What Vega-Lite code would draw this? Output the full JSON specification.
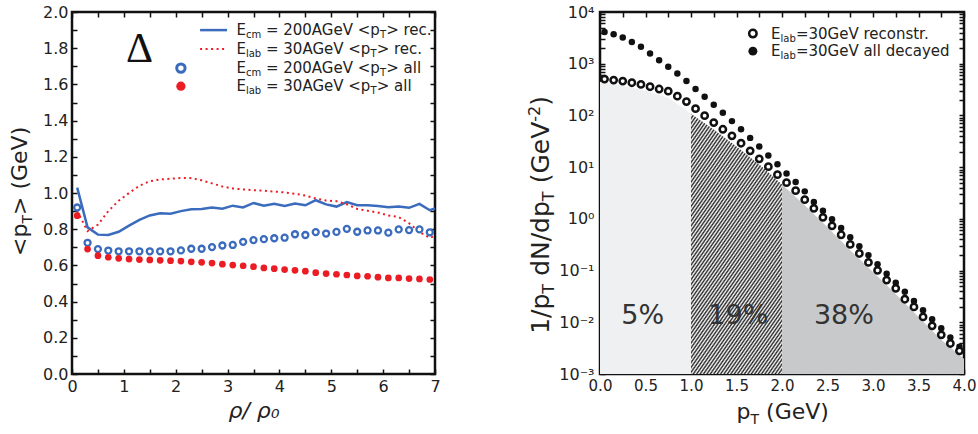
{
  "$schema": "https://vega.github.io/schema/vega-lite/v6.json",
  "background": "white",
  "padding": {"left": 8, "top": 2, "right": 5, "bottom": 0},
  "spacing": 83,
  "datasets": {
    "rec200": [
      {"rho": 0.1, "v": 1.03}, {"rho": 0.3, "v": 0.81}, {"rho": 0.5, "v": 0.77}, {"rho": 0.7, "v": 0.768}, {"rho": 0.9, "v": 0.786},
      {"rho": 1.1, "v": 0.82}, {"rho": 1.3, "v": 0.852}, {"rho": 1.5, "v": 0.876}, {"rho": 1.7, "v": 0.888}, {"rho": 1.9, "v": 0.886},
      {"rho": 2.1, "v": 0.9}, {"rho": 2.3, "v": 0.91}, {"rho": 2.5, "v": 0.912}, {"rho": 2.7, "v": 0.92}, {"rho": 2.9, "v": 0.913},
      {"rho": 3.1, "v": 0.93}, {"rho": 3.3, "v": 0.92}, {"rho": 3.5, "v": 0.945}, {"rho": 3.7, "v": 0.93}, {"rho": 3.9, "v": 0.94},
      {"rho": 4.1, "v": 0.928}, {"rho": 4.3, "v": 0.942}, {"rho": 4.5, "v": 0.932}, {"rho": 4.7, "v": 0.96}, {"rho": 4.9, "v": 0.937},
      {"rho": 5.1, "v": 0.925}, {"rho": 5.3, "v": 0.95}, {"rho": 5.5, "v": 0.932}, {"rho": 5.7, "v": 0.932}, {"rho": 5.9, "v": 0.928},
      {"rho": 6.1, "v": 0.921}, {"rho": 6.3, "v": 0.926}, {"rho": 6.5, "v": 0.918}, {"rho": 6.7, "v": 0.94}, {"rho": 6.9, "v": 0.905},
      {"rho": 7.0, "v": 0.915}
    ],
    "rec30": [
      {"rho": 0.1, "v": 0.9}, {"rho": 0.3, "v": 0.79}, {"rho": 0.5, "v": 0.825}, {"rho": 0.7, "v": 0.9}, {"rho": 0.9, "v": 0.957},
      {"rho": 1.1, "v": 1.0}, {"rho": 1.3, "v": 1.04}, {"rho": 1.5, "v": 1.065}, {"rho": 1.7, "v": 1.075}, {"rho": 1.9, "v": 1.079},
      {"rho": 2.1, "v": 1.083}, {"rho": 2.3, "v": 1.082}, {"rho": 2.5, "v": 1.07}, {"rho": 2.7, "v": 1.053}, {"rho": 2.9, "v": 1.036},
      {"rho": 3.1, "v": 1.025}, {"rho": 3.3, "v": 1.02}, {"rho": 3.5, "v": 1.015}, {"rho": 3.7, "v": 1.013}, {"rho": 3.9, "v": 1.008},
      {"rho": 4.1, "v": 1.003}, {"rho": 4.3, "v": 0.996}, {"rho": 4.5, "v": 0.986}, {"rho": 4.7, "v": 0.97}, {"rho": 4.9, "v": 0.958},
      {"rho": 5.1, "v": 0.955}, {"rho": 5.3, "v": 0.938}, {"rho": 5.5, "v": 0.912}, {"rho": 5.7, "v": 0.902}, {"rho": 5.9, "v": 0.892},
      {"rho": 6.1, "v": 0.876}, {"rho": 6.3, "v": 0.867}, {"rho": 6.5, "v": 0.833}, {"rho": 6.7, "v": 0.785}, {"rho": 6.9, "v": 0.752},
      {"rho": 7.0, "v": 0.764}
    ],
    "all200": [
      {"rho": 0.1, "v": 0.92}, {"rho": 0.3, "v": 0.725}, {"rho": 0.5, "v": 0.69}, {"rho": 0.7, "v": 0.682}, {"rho": 0.9, "v": 0.678},
      {"rho": 1.1, "v": 0.678}, {"rho": 1.3, "v": 0.678}, {"rho": 1.5, "v": 0.678}, {"rho": 1.7, "v": 0.678}, {"rho": 1.9, "v": 0.678},
      {"rho": 2.1, "v": 0.683}, {"rho": 2.3, "v": 0.692}, {"rho": 2.5, "v": 0.692}, {"rho": 2.7, "v": 0.701}, {"rho": 2.9, "v": 0.71},
      {"rho": 3.1, "v": 0.713}, {"rho": 3.3, "v": 0.73}, {"rho": 3.5, "v": 0.74}, {"rho": 3.7, "v": 0.745}, {"rho": 3.9, "v": 0.75},
      {"rho": 4.1, "v": 0.753}, {"rho": 4.3, "v": 0.772}, {"rho": 4.5, "v": 0.768}, {"rho": 4.7, "v": 0.784}, {"rho": 4.9, "v": 0.776},
      {"rho": 5.1, "v": 0.785}, {"rho": 5.3, "v": 0.802}, {"rho": 5.5, "v": 0.786}, {"rho": 5.7, "v": 0.793}, {"rho": 5.9, "v": 0.793},
      {"rho": 6.1, "v": 0.781}, {"rho": 6.3, "v": 0.799}, {"rho": 6.5, "v": 0.795}, {"rho": 6.7, "v": 0.799}, {"rho": 6.9, "v": 0.783}
    ],
    "all30": [
      {"rho": 0.1, "v": 0.875}, {"rho": 0.3, "v": 0.69}, {"rho": 0.5, "v": 0.654}, {"rho": 0.7, "v": 0.645}, {"rho": 0.9, "v": 0.639},
      {"rho": 1.1, "v": 0.635}, {"rho": 1.3, "v": 0.632}, {"rho": 1.5, "v": 0.63}, {"rho": 1.7, "v": 0.628}, {"rho": 1.9, "v": 0.626},
      {"rho": 2.1, "v": 0.624}, {"rho": 2.3, "v": 0.62}, {"rho": 2.5, "v": 0.617}, {"rho": 2.7, "v": 0.613}, {"rho": 2.9, "v": 0.607},
      {"rho": 3.1, "v": 0.602}, {"rho": 3.3, "v": 0.598}, {"rho": 3.5, "v": 0.593}, {"rho": 3.7, "v": 0.586}, {"rho": 3.9, "v": 0.582},
      {"rho": 4.1, "v": 0.577}, {"rho": 4.3, "v": 0.573}, {"rho": 4.5, "v": 0.568}, {"rho": 4.7, "v": 0.56}, {"rho": 4.9, "v": 0.555},
      {"rho": 5.1, "v": 0.551}, {"rho": 5.3, "v": 0.547}, {"rho": 5.5, "v": 0.542}, {"rho": 5.7, "v": 0.54}, {"rho": 5.9, "v": 0.535},
      {"rho": 6.1, "v": 0.531}, {"rho": 6.3, "v": 0.531}, {"rho": 6.5, "v": 0.527}, {"rho": 6.7, "v": 0.525}, {"rho": 6.9, "v": 0.522}
    ],
    "reconstr": [
      {"pt": 0.05, "v": 505}, {"pt": 0.15, "v": 483}, {"pt": 0.25, "v": 462}, {"pt": 0.35, "v": 429}, {"pt": 0.45, "v": 397},
      {"pt": 0.55, "v": 359}, {"pt": 0.65, "v": 324}, {"pt": 0.75, "v": 294}, {"pt": 0.85, "v": 236}, {"pt": 0.95, "v": 185},
      {"pt": 1.05, "v": 135}, {"pt": 1.15, "v": 99.1}, {"pt": 1.25, "v": 72.6}, {"pt": 1.35, "v": 54.0}, {"pt": 1.45, "v": 40.3},
      {"pt": 1.55, "v": 29.0}, {"pt": 1.65, "v": 20.7}, {"pt": 1.75, "v": 14.5}, {"pt": 1.85, "v": 10.2}, {"pt": 1.95, "v": 7.14},
      {"pt": 2.05, "v": 5.0}, {"pt": 2.15, "v": 3.51}, {"pt": 2.25, "v": 2.35}, {"pt": 2.35, "v": 1.6}, {"pt": 2.45, "v": 1.07},
      {"pt": 2.55, "v": 0.733}, {"pt": 2.65, "v": 0.492}, {"pt": 2.75, "v": 0.32}, {"pt": 2.85, "v": 0.214}, {"pt": 2.95, "v": 0.144},
      {"pt": 3.05, "v": 0.101}, {"pt": 3.15, "v": 0.0656}, {"pt": 3.25, "v": 0.0454}, {"pt": 3.35, "v": 0.0279}, {"pt": 3.45, "v": 0.0198},
      {"pt": 3.55, "v": 0.0127}, {"pt": 3.65, "v": 0.00853}, {"pt": 3.75, "v": 0.00572}, {"pt": 3.85, "v": 0.00389}, {"pt": 3.95, "v": 0.00281}
    ],
    "decayed": [
      {"pt": 0.05, "v": 4120}, {"pt": 0.15, "v": 3720}, {"pt": 0.25, "v": 3200}, {"pt": 0.35, "v": 2640}, {"pt": 0.45, "v": 2120},
      {"pt": 0.55, "v": 1570}, {"pt": 0.65, "v": 1170}, {"pt": 0.75, "v": 871}, {"pt": 0.85, "v": 647}, {"pt": 0.95, "v": 462},
      {"pt": 1.05, "v": 324}, {"pt": 1.15, "v": 230}, {"pt": 1.25, "v": 161}, {"pt": 1.35, "v": 113}, {"pt": 1.45, "v": 77.6},
      {"pt": 1.55, "v": 54.0}, {"pt": 1.65, "v": 36.8}, {"pt": 1.75, "v": 25.0}, {"pt": 1.85, "v": 16.8}, {"pt": 1.95, "v": 11.4},
      {"pt": 2.05, "v": 7.57}, {"pt": 2.15, "v": 5.14}, {"pt": 2.25, "v": 3.4}, {"pt": 2.35, "v": 2.13}, {"pt": 2.45, "v": 1.43},
      {"pt": 2.55, "v": 0.982}, {"pt": 2.65, "v": 0.668}, {"pt": 2.75, "v": 0.442}, {"pt": 2.85, "v": 0.296}, {"pt": 2.95, "v": 0.199},
      {"pt": 3.05, "v": 0.132}, {"pt": 3.15, "v": 0.0867}, {"pt": 3.25, "v": 0.0582}, {"pt": 3.35, "v": 0.0391}, {"pt": 3.45, "v": 0.0258},
      {"pt": 3.55, "v": 0.0171}, {"pt": 3.65, "v": 0.0115}, {"pt": 3.75, "v": 0.00769}, {"pt": 3.85, "v": 0.00507}, {"pt": 3.95, "v": 0.00336}
    ],
    "area": [
      {"pt": 0.0, "v": 448, "r": "a"}, {"pt": 0.25, "v": 375, "r": "a"}, {"pt": 0.5, "v": 301, "r": "a"}, {"pt": 0.75, "v": 220, "r": "a"}, {"pt": 1.0, "v": 108, "r": "a"},
      {"pt": 1.0, "v": 108, "r": "b"}, {"pt": 1.25, "v": 53.2, "r": "b"}, {"pt": 1.5, "v": 25.0, "r": "b"}, {"pt": 1.75, "v": 11.3, "r": "b"}, {"pt": 2.0, "v": 4.64, "r": "b"},
      {"pt": 2.0, "v": 4.64, "r": "c"}, {"pt": 2.25, "v": 1.83, "r": "c"}, {"pt": 2.5, "v": 0.689, "r": "c"}, {"pt": 2.75, "v": 0.248, "r": "c"}, {"pt": 3.0, "v": 0.0935, "r": "c"},
      {"pt": 3.25, "v": 0.0352, "r": "c"}, {"pt": 3.5, "v": 0.0127, "r": "c"}, {"pt": 3.75, "v": 0.00458, "r": "c"}, {"pt": 4.0, "v": 0.00197, "r": "c"}
    ]
  },
  "hconcat": [
    {
      "width": 363,
      "height": 362,
      "resolve": {"axis": {"x": "independent", "y": "independent"}},
      "layer": [
        {
          "data": {"name": "rec200"},
          "mark": {"type": "line", "color": "#3a6bbd", "strokeWidth": 2.5},
          "encoding": {
            "x": {"field": "rho", "type": "quantitative", "scale": {"domain": [0, 7], "nice": false},
              "axis": {"orient": "bottom", "values": [0, 0.5, 1, 1.5, 2, 2.5, 3, 3.5, 4, 4.5, 5, 5.5, 6, 6.5, 7],
                "labelExpr": "datum.value % 1 == 0 ? format(datum.value, 'd') : ''",
                "title": "ρ/ ρ₀", "titleFontStyle": "italic", "titleFontWeight": "normal", "titleFontSize": 22, "titleFont": "DejaVu Sans", "titleColor": "#222", "titlePadding": 6}},
            "y": {"field": "v", "type": "quantitative", "scale": {"domain": [0, 2], "nice": false, "zero": false},
              "axis": {"orient": "left", "values": [0, 0.1, 0.2, 0.3, 0.4, 0.5, 0.6, 0.7, 0.8, 0.9, 1, 1.1, 1.2, 1.3, 1.4, 1.5, 1.6, 1.7, 1.8, 1.9, 2],
                "labelExpr": "round(datum.value * 10) % 2 == 0 ? format(datum.value, '.1f') : ''", "title": null}}
          }
        },
        {
          "data": {"name": "rec30"},
          "mark": {"type": "line", "color": "#ec1c24", "strokeWidth": 2, "strokeDash": [2, 3.5]},
          "encoding": {
            "x": {"field": "rho", "type": "quantitative", "scale": {"domain": [0, 7], "nice": false},
              "axis": {"orient": "top", "values": [0, 0.5, 1, 1.5, 2, 2.5, 3, 3.5, 4, 4.5, 5, 5.5, 6, 6.5, 7], "labels": false, "title": null}},
            "y": {"field": "v", "type": "quantitative", "scale": {"domain": [0, 2], "nice": false, "zero": false},
              "axis": {"orient": "right", "values": [0, 0.1, 0.2, 0.3, 0.4, 0.5, 0.6, 0.7, 0.8, 0.9, 1, 1.1, 1.2, 1.3, 1.4, 1.5, 1.6, 1.7, 1.8, 1.9, 2], "labels": false, "title": null}}
          }
        },
        {
          "data": {"name": "all200"},
          "mark": {"type": "circle", "fill": "white", "stroke": "#3a6bbd", "strokeWidth": 2.3, "size": 36, "opacity": 1},
          "encoding": {"x": {"field": "rho", "type": "quantitative", "axis": null}, "y": {"field": "v", "type": "quantitative", "axis": null}}
        },
        {
          "data": {"name": "all30"},
          "mark": {"type": "circle", "color": "#ec1c24", "size": 45, "opacity": 1},
          "encoding": {"x": {"field": "rho", "type": "quantitative", "axis": null}, "y": {"field": "v", "type": "quantitative", "axis": null}}
        },
        {
          "data": {"values": [{}]},
          "mark": {"type": "text", "text": "Δ", "font": "Liberation Serif", "fontSize": 42, "align": "center", "baseline": "alphabetic", "color": "#111"},
          "encoding": {"x": {"datum": 1.3, "axis": null}, "y": {"datum": 1.724, "axis": null}}
        },
        {
          "data": {"values": [{}]},
          "mark": {"type": "rule", "color": "#3a6bbd", "strokeWidth": 2.5},
          "encoding": {"x": {"datum": 2.47, "axis": null}, "x2": {"datum": 2.99}, "y": {"datum": 1.9, "axis": null}}
        },
        {
          "data": {"values": [{}]},
          "mark": {"type": "rule", "color": "#ec1c24", "strokeWidth": 2, "strokeDash": [2, 3.5]},
          "encoding": {"x": {"datum": 2.47, "axis": null}, "x2": {"datum": 2.99}, "y": {"datum": 1.796, "axis": null}}
        },
        {
          "data": {"values": [{}]},
          "mark": {"type": "circle", "fill": "white", "stroke": "#3a6bbd", "strokeWidth": 3, "size": 70, "opacity": 1},
          "encoding": {"x": {"datum": 2.1, "axis": null}, "y": {"datum": 1.69, "axis": null}}
        },
        {
          "data": {"values": [{}]},
          "mark": {"type": "circle", "color": "#ec1c24", "size": 85, "opacity": 1},
          "encoding": {"x": {"datum": 2.1, "axis": null}, "y": {"datum": 1.59, "axis": null}}
        },
        {"data": {"values": [{}]}, "mark": {"type": "text", "text": "E", "align": "left", "baseline": "middle", "fontSize": 15}, "encoding": {"x": {"datum": 3.17, "axis": null}, "y": {"datum": 1.9, "axis": null}}},
        {"data": {"values": [{}]}, "mark": {"type": "text", "text": "cm", "align": "left", "baseline": "middle", "fontSize": 10, "dx": 9.5, "dy": 5}, "encoding": {"x": {"datum": 3.17, "axis": null}, "y": {"datum": 1.9, "axis": null}}},
        {"data": {"values": [{}]}, "mark": {"type": "text", "text": "= 200AGeV <p", "align": "left", "baseline": "middle", "fontSize": 15, "dx": 29.5}, "encoding": {"x": {"datum": 3.17, "axis": null}, "y": {"datum": 1.9, "axis": null}}},
        {"data": {"values": [{}]}, "mark": {"type": "text", "text": "T", "align": "left", "baseline": "middle", "fontSize": 10, "dx": 143.7, "dy": 5}, "encoding": {"x": {"datum": 3.17, "axis": null}, "y": {"datum": 1.9, "axis": null}}},
        {"data": {"values": [{}]}, "mark": {"type": "text", "text": "> rec.", "align": "left", "baseline": "middle", "fontSize": 15, "dx": 149.8}, "encoding": {"x": {"datum": 3.17, "axis": null}, "y": {"datum": 1.9, "axis": null}}},
        {"data": {"values": [{}]}, "mark": {"type": "text", "text": "E", "align": "left", "baseline": "middle", "fontSize": 15}, "encoding": {"x": {"datum": 3.17, "axis": null}, "y": {"datum": 1.796, "axis": null}}},
        {"data": {"values": [{}]}, "mark": {"type": "text", "text": "lab", "align": "left", "baseline": "middle", "fontSize": 10, "dx": 9.5, "dy": 5}, "encoding": {"x": {"datum": 3.17, "axis": null}, "y": {"datum": 1.796, "axis": null}}},
        {"data": {"values": [{}]}, "mark": {"type": "text", "text": "= 30AGeV <p", "align": "left", "baseline": "middle", "fontSize": 15, "dx": 29.6}, "encoding": {"x": {"datum": 3.17, "axis": null}, "y": {"datum": 1.796, "axis": null}}},
        {"data": {"values": [{}]}, "mark": {"type": "text", "text": "T", "align": "left", "baseline": "middle", "fontSize": 10, "dx": 134.2, "dy": 5}, "encoding": {"x": {"datum": 3.17, "axis": null}, "y": {"datum": 1.796, "axis": null}}},
        {"data": {"values": [{}]}, "mark": {"type": "text", "text": "> rec.", "align": "left", "baseline": "middle", "fontSize": 15, "dx": 140.3}, "encoding": {"x": {"datum": 3.17, "axis": null}, "y": {"datum": 1.796, "axis": null}}},
        {"data": {"values": [{}]}, "mark": {"type": "text", "text": "E", "align": "left", "baseline": "middle", "fontSize": 15}, "encoding": {"x": {"datum": 3.17, "axis": null}, "y": {"datum": 1.69, "axis": null}}},
        {"data": {"values": [{}]}, "mark": {"type": "text", "text": "cm", "align": "left", "baseline": "middle", "fontSize": 10, "dx": 9.5, "dy": 5}, "encoding": {"x": {"datum": 3.17, "axis": null}, "y": {"datum": 1.69, "axis": null}}},
        {"data": {"values": [{}]}, "mark": {"type": "text", "text": "= 200AGeV <p", "align": "left", "baseline": "middle", "fontSize": 15, "dx": 29.5}, "encoding": {"x": {"datum": 3.17, "axis": null}, "y": {"datum": 1.69, "axis": null}}},
        {"data": {"values": [{}]}, "mark": {"type": "text", "text": "T", "align": "left", "baseline": "middle", "fontSize": 10, "dx": 143.7, "dy": 5}, "encoding": {"x": {"datum": 3.17, "axis": null}, "y": {"datum": 1.69, "axis": null}}},
        {"data": {"values": [{}]}, "mark": {"type": "text", "text": "> all", "align": "left", "baseline": "middle", "fontSize": 15, "dx": 149.8}, "encoding": {"x": {"datum": 3.17, "axis": null}, "y": {"datum": 1.69, "axis": null}}},
        {"data": {"values": [{}]}, "mark": {"type": "text", "text": "E", "align": "left", "baseline": "middle", "fontSize": 15}, "encoding": {"x": {"datum": 3.17, "axis": null}, "y": {"datum": 1.59, "axis": null}}},
        {"data": {"values": [{}]}, "mark": {"type": "text", "text": "lab", "align": "left", "baseline": "middle", "fontSize": 10, "dx": 9.5, "dy": 5}, "encoding": {"x": {"datum": 3.17, "axis": null}, "y": {"datum": 1.59, "axis": null}}},
        {"data": {"values": [{}]}, "mark": {"type": "text", "text": "= 30AGeV <p", "align": "left", "baseline": "middle", "fontSize": 15, "dx": 29.6}, "encoding": {"x": {"datum": 3.17, "axis": null}, "y": {"datum": 1.59, "axis": null}}},
        {"data": {"values": [{}]}, "mark": {"type": "text", "text": "T", "align": "left", "baseline": "middle", "fontSize": 10, "dx": 134.2, "dy": 5}, "encoding": {"x": {"datum": 3.17, "axis": null}, "y": {"datum": 1.59, "axis": null}}},
        {"data": {"values": [{}]}, "mark": {"type": "text", "text": "> all", "align": "left", "baseline": "middle", "fontSize": 15, "dx": 140.3}, "encoding": {"x": {"datum": 3.17, "axis": null}, "y": {"datum": 1.59, "axis": null}}},
        {"data": {"values": [{}]}, "mark": {"type": "text", "text": "<p", "align": "left", "baseline": "alphabetic", "angle": 270, "fontSize": 22}, "encoding": {"x": {"datum": -0.861, "axis": null}, "y": {"datum": 0.652, "axis": null}}},
        {"data": {"values": [{}]}, "mark": {"type": "text", "text": "T", "align": "left", "baseline": "alphabetic", "angle": 270, "fontSize": 14, "dx": 32.4, "dy": 5}, "encoding": {"x": {"datum": -0.861, "axis": null}, "y": {"datum": 0.652, "axis": null}}},
        {"data": {"values": [{}]}, "mark": {"type": "text", "text": "> (GeV)", "align": "left", "baseline": "alphabetic", "angle": 270, "fontSize": 22, "dx": 41}, "encoding": {"x": {"datum": -0.861, "axis": null}, "y": {"datum": 0.652, "axis": null}}}
      ]
    },
    {
      "width": 364,
      "height": 362,
      "resolve": {"axis": {"x": "independent", "y": "independent"}},
      "layer": [
        {
          "data": {"name": "area"},
          "transform": [{"filter": "datum.r == 'a'"}],
          "mark": {"type": "area", "color": "#eef0f2", "opacity": 1},
          "encoding": {
            "x": {"field": "pt", "type": "quantitative", "scale": {"domain": [0, 4], "nice": false},
              "axis": {"orient": "bottom", "values": [0, 0.25, 0.5, 0.75, 1, 1.25, 1.5, 1.75, 2, 2.25, 2.5, 2.75, 3, 3.25, 3.5, 3.75, 4], "labelFontSize": 15,
                "labelExpr": "round(datum.value * 4) % 2 == 0 ? format(datum.value, '.1f') : ''", "title": null}},
            "y": {"field": "v", "type": "quantitative", "scale": {"type": "log", "domain": [0.001, 10000], "nice": false},
              "axis": {"orient": "left", "labelPadding": 11, "values": [0.001, 0.002, 0.003, 0.004, 0.005, 0.006, 0.007, 0.008, 0.009, 0.01, 0.02, 0.03, 0.04, 0.05, 0.06, 0.07, 0.08, 0.09, 0.1, 0.2, 0.3, 0.4, 0.5, 0.6, 0.7, 0.8, 0.9, 1, 2, 3, 4, 5, 6, 7, 8, 9, 10, 20, 30, 40, 50, 60, 70, 80, 90, 100, 200, 300, 400, 500, 600, 700, 800, 900, 1000, 2000, 3000, 4000, 5000, 6000, 7000, 8000, 9000, 10000],
                "labelExpr": "abs(datum.value / pow(10, round(log(datum.value) / LN10)) - 1) < 0.01 ? ['10⁻³', '10⁻²', '10⁻¹', '10⁰', '10¹', '10²', '10³', '10⁴'][round(log(datum.value) / LN10) + 3] : ''",
                "title": null}},
            "y2": {"datum": 0.001}
          }
        },
        {
          "data": {"name": "area"},
          "transform": [{"filter": "datum.r == 'b'"}],
          "mark": {"type": "area", "opacity": 1, "fill": {"gradient": "linear", "x1": 0, "y1": 0, "x2": 0.6, "y2": 1.2, "stops": [
            {"offset": 0, "color": "#222"}, {"offset": 0.00625, "color": "#fff"}, {"offset": 0.0125, "color": "#222"}, {"offset": 0.01875, "color": "#fff"}, {"offset": 0.025, "color": "#222"}, {"offset": 0.03125, "color": "#fff"}, {"offset": 0.0375, "color": "#222"}, {"offset": 0.04375, "color": "#fff"},
            {"offset": 0.05, "color": "#222"}, {"offset": 0.05625, "color": "#fff"}, {"offset": 0.0625, "color": "#222"}, {"offset": 0.06875, "color": "#fff"}, {"offset": 0.075, "color": "#222"}, {"offset": 0.08125, "color": "#fff"}, {"offset": 0.0875, "color": "#222"}, {"offset": 0.09375, "color": "#fff"},
            {"offset": 0.1, "color": "#222"}, {"offset": 0.10625, "color": "#fff"}, {"offset": 0.1125, "color": "#222"}, {"offset": 0.11875, "color": "#fff"}, {"offset": 0.125, "color": "#222"}, {"offset": 0.13125, "color": "#fff"}, {"offset": 0.1375, "color": "#222"}, {"offset": 0.14375, "color": "#fff"},
            {"offset": 0.15, "color": "#222"}, {"offset": 0.15625, "color": "#fff"}, {"offset": 0.1625, "color": "#222"}, {"offset": 0.16875, "color": "#fff"}, {"offset": 0.175, "color": "#222"}, {"offset": 0.18125, "color": "#fff"}, {"offset": 0.1875, "color": "#222"}, {"offset": 0.19375, "color": "#fff"},
            {"offset": 0.2, "color": "#222"}, {"offset": 0.20625, "color": "#fff"}, {"offset": 0.2125, "color": "#222"}, {"offset": 0.21875, "color": "#fff"}, {"offset": 0.225, "color": "#222"}, {"offset": 0.23125, "color": "#fff"}, {"offset": 0.2375, "color": "#222"}, {"offset": 0.24375, "color": "#fff"},
            {"offset": 0.25, "color": "#222"}, {"offset": 0.25625, "color": "#fff"}, {"offset": 0.2625, "color": "#222"}, {"offset": 0.26875, "color": "#fff"}, {"offset": 0.275, "color": "#222"}, {"offset": 0.28125, "color": "#fff"}, {"offset": 0.2875, "color": "#222"}, {"offset": 0.29375, "color": "#fff"},
            {"offset": 0.3, "color": "#222"}, {"offset": 0.30625, "color": "#fff"}, {"offset": 0.3125, "color": "#222"}, {"offset": 0.31875, "color": "#fff"}, {"offset": 0.325, "color": "#222"}, {"offset": 0.33125, "color": "#fff"}, {"offset": 0.3375, "color": "#222"}, {"offset": 0.34375, "color": "#fff"},
            {"offset": 0.35, "color": "#222"}, {"offset": 0.35625, "color": "#fff"}, {"offset": 0.3625, "color": "#222"}, {"offset": 0.36875, "color": "#fff"}, {"offset": 0.375, "color": "#222"}, {"offset": 0.38125, "color": "#fff"}, {"offset": 0.3875, "color": "#222"}, {"offset": 0.39375, "color": "#fff"},
            {"offset": 0.4, "color": "#222"}, {"offset": 0.40625, "color": "#fff"}, {"offset": 0.4125, "color": "#222"}, {"offset": 0.41875, "color": "#fff"}, {"offset": 0.425, "color": "#222"}, {"offset": 0.43125, "color": "#fff"}, {"offset": 0.4375, "color": "#222"}, {"offset": 0.44375, "color": "#fff"},
            {"offset": 0.45, "color": "#222"}, {"offset": 0.45625, "color": "#fff"}, {"offset": 0.4625, "color": "#222"}, {"offset": 0.46875, "color": "#fff"}, {"offset": 0.475, "color": "#222"}, {"offset": 0.48125, "color": "#fff"}, {"offset": 0.4875, "color": "#222"}, {"offset": 0.49375, "color": "#fff"},
            {"offset": 0.5, "color": "#222"}, {"offset": 0.50625, "color": "#fff"}, {"offset": 0.5125, "color": "#222"}, {"offset": 0.51875, "color": "#fff"}, {"offset": 0.525, "color": "#222"}, {"offset": 0.53125, "color": "#fff"}, {"offset": 0.5375, "color": "#222"}, {"offset": 0.54375, "color": "#fff"},
            {"offset": 0.55, "color": "#222"}, {"offset": 0.55625, "color": "#fff"}, {"offset": 0.5625, "color": "#222"}, {"offset": 0.56875, "color": "#fff"}, {"offset": 0.575, "color": "#222"}, {"offset": 0.58125, "color": "#fff"}, {"offset": 0.5875, "color": "#222"}, {"offset": 0.59375, "color": "#fff"},
            {"offset": 0.6, "color": "#222"}, {"offset": 0.60625, "color": "#fff"}, {"offset": 0.6125, "color": "#222"}, {"offset": 0.61875, "color": "#fff"}, {"offset": 0.625, "color": "#222"}, {"offset": 0.63125, "color": "#fff"}, {"offset": 0.6375, "color": "#222"}, {"offset": 0.64375, "color": "#fff"},
            {"offset": 0.65, "color": "#222"}, {"offset": 0.65625, "color": "#fff"}, {"offset": 0.6625, "color": "#222"}, {"offset": 0.66875, "color": "#fff"}, {"offset": 0.675, "color": "#222"}, {"offset": 0.68125, "color": "#fff"}, {"offset": 0.6875, "color": "#222"}, {"offset": 0.69375, "color": "#fff"},
            {"offset": 0.7, "color": "#222"}, {"offset": 0.70625, "color": "#fff"}, {"offset": 0.7125, "color": "#222"}, {"offset": 0.71875, "color": "#fff"}, {"offset": 0.725, "color": "#222"}, {"offset": 0.73125, "color": "#fff"}, {"offset": 0.7375, "color": "#222"}, {"offset": 0.74375, "color": "#fff"},
            {"offset": 0.75, "color": "#222"}, {"offset": 0.75625, "color": "#fff"}, {"offset": 0.7625, "color": "#222"}, {"offset": 0.76875, "color": "#fff"}, {"offset": 0.775, "color": "#222"}, {"offset": 0.78125, "color": "#fff"}, {"offset": 0.7875, "color": "#222"}, {"offset": 0.79375, "color": "#fff"},
            {"offset": 0.8, "color": "#222"}, {"offset": 0.80625, "color": "#fff"}, {"offset": 0.8125, "color": "#222"}, {"offset": 0.81875, "color": "#fff"}, {"offset": 0.825, "color": "#222"}, {"offset": 0.83125, "color": "#fff"}, {"offset": 0.8375, "color": "#222"}, {"offset": 0.84375, "color": "#fff"},
            {"offset": 0.85, "color": "#222"}, {"offset": 0.85625, "color": "#fff"}, {"offset": 0.8625, "color": "#222"}, {"offset": 0.86875, "color": "#fff"}, {"offset": 0.875, "color": "#222"}, {"offset": 0.88125, "color": "#fff"}, {"offset": 0.8875, "color": "#222"}, {"offset": 0.89375, "color": "#fff"},
            {"offset": 0.9, "color": "#222"}, {"offset": 0.90625, "color": "#fff"}, {"offset": 0.9125, "color": "#222"}, {"offset": 0.91875, "color": "#fff"}, {"offset": 0.925, "color": "#222"}, {"offset": 0.93125, "color": "#fff"}, {"offset": 0.9375, "color": "#222"}, {"offset": 0.94375, "color": "#fff"},
            {"offset": 0.95, "color": "#222"}, {"offset": 0.95625, "color": "#fff"}, {"offset": 0.9625, "color": "#222"}, {"offset": 0.96875, "color": "#fff"}, {"offset": 0.975, "color": "#222"}, {"offset": 0.98125, "color": "#fff"}, {"offset": 0.9875, "color": "#222"}, {"offset": 0.99375, "color": "#fff"},
            {"offset": 1, "color": "#222"}
          ]}},
          "encoding": {
            "x": {"field": "pt", "type": "quantitative", "scale": {"domain": [0, 4], "nice": false},
              "axis": {"orient": "top", "values": [0, 0.25, 0.5, 0.75, 1, 1.25, 1.5, 1.75, 2, 2.25, 2.5, 2.75, 3, 3.25, 3.5, 3.75, 4], "labels": false, "title": null}},
            "y": {"field": "v", "type": "quantitative", "scale": {"type": "log", "domain": [0.001, 10000], "nice": false},
              "axis": {"orient": "right", "values": [0.001, 0.002, 0.003, 0.004, 0.005, 0.006, 0.007, 0.008, 0.009, 0.01, 0.02, 0.03, 0.04, 0.05, 0.06, 0.07, 0.08, 0.09, 0.1, 0.2, 0.3, 0.4, 0.5, 0.6, 0.7, 0.8, 0.9, 1, 2, 3, 4, 5, 6, 7, 8, 9, 10, 20, 30, 40, 50, 60, 70, 80, 90, 100, 200, 300, 400, 500, 600, 700, 800, 900, 1000, 2000, 3000, 4000, 5000, 6000, 7000, 8000, 9000, 10000], "labels": false, "title": null}},
            "y2": {"datum": 0.001}
          }
        },
        {
          "data": {"name": "area"},
          "transform": [{"filter": "datum.r == 'c'"}],
          "mark": {"type": "area", "color": "#c8c9cb", "opacity": 1},
          "encoding": {
            "x": {"field": "pt", "type": "quantitative", "axis": null},
            "y": {"field": "v", "type": "quantitative", "axis": null},
            "y2": {"datum": 0.001}
          }
        },
        {
          "data": {"name": "decayed"},
          "mark": {"type": "circle", "color": "#111", "size": 42, "opacity": 1},
          "encoding": {"x": {"field": "pt", "type": "quantitative", "axis": null}, "y": {"field": "v", "type": "quantitative", "axis": null}}
        },
        {
          "data": {"name": "reconstr"},
          "mark": {"type": "circle", "fill": "white", "stroke": "#111", "strokeWidth": 2.5, "size": 40, "opacity": 1},
          "encoding": {"x": {"field": "pt", "type": "quantitative", "axis": null}, "y": {"field": "v", "type": "quantitative", "axis": null}}
        },
        {
          "data": {"values": [{}]},
          "mark": {"type": "circle", "fill": "white", "stroke": "#111", "strokeWidth": 2.5, "size": 56, "opacity": 1},
          "encoding": {"x": {"datum": 1.68, "axis": null}, "y": {"datum": 3820, "axis": null}}
        },
        {
          "data": {"values": [{}]},
          "mark": {"type": "circle", "color": "#111", "size": 80, "opacity": 1},
          "encoding": {"x": {"datum": 1.68, "axis": null}, "y": {"datum": 1750, "axis": null}}
        },
        {"data": {"values": [{}]}, "mark": {"type": "text", "text": "E", "align": "left", "baseline": "middle", "fontSize": 15}, "encoding": {"x": {"datum": 1.88, "axis": null}, "y": {"datum": 3820, "axis": null}}},
        {"data": {"values": [{}]}, "mark": {"type": "text", "text": "lab", "align": "left", "baseline": "middle", "fontSize": 10, "dx": 9.5, "dy": 5}, "encoding": {"x": {"datum": 1.88, "axis": null}, "y": {"datum": 3820, "axis": null}}},
        {"data": {"values": [{}]}, "mark": {"type": "text", "text": "=30GeV reconstr.", "align": "left", "baseline": "middle", "fontSize": 15, "dx": 24.8}, "encoding": {"x": {"datum": 1.88, "axis": null}, "y": {"datum": 3820, "axis": null}}},
        {"data": {"values": [{}]}, "mark": {"type": "text", "text": "E", "align": "left", "baseline": "middle", "fontSize": 15}, "encoding": {"x": {"datum": 1.88, "axis": null}, "y": {"datum": 1750, "axis": null}}},
        {"data": {"values": [{}]}, "mark": {"type": "text", "text": "lab", "align": "left", "baseline": "middle", "fontSize": 10, "dx": 9.5, "dy": 5}, "encoding": {"x": {"datum": 1.88, "axis": null}, "y": {"datum": 1750, "axis": null}}},
        {"data": {"values": [{}]}, "mark": {"type": "text", "text": "=30GeV all decayed", "align": "left", "baseline": "middle", "fontSize": 15, "dx": 24.8}, "encoding": {"x": {"datum": 1.88, "axis": null}, "y": {"datum": 1750, "axis": null}}},
        {"data": {"values": [{}]}, "mark": {"type": "text", "text": "5%", "align": "center", "baseline": "middle", "fontSize": 27, "color": "#333"}, "encoding": {"x": {"datum": 0.47, "axis": null}, "y": {"datum": 0.0133, "axis": null}}},
        {"data": {"values": [{}]}, "mark": {"type": "text", "text": "19%", "align": "center", "baseline": "middle", "fontSize": 27, "color": "#333"}, "encoding": {"x": {"datum": 1.52, "axis": null}, "y": {"datum": 0.0133, "axis": null}}},
        {"data": {"values": [{}]}, "mark": {"type": "text", "text": "38%", "align": "center", "baseline": "middle", "fontSize": 27, "color": "#333"}, "encoding": {"x": {"datum": 2.68, "axis": null}, "y": {"datum": 0.0133, "axis": null}}},
        {"data": {"values": [{}]}, "mark": {"type": "text", "text": "p", "align": "left", "baseline": "alphabetic", "fontSize": 22}, "encoding": {"x": {"datum": 1.5, "axis": null}, "y": {"datum": 0.0001377, "axis": null}}},
        {"data": {"values": [{}]}, "mark": {"type": "text", "text": "T", "align": "left", "baseline": "alphabetic", "fontSize": 14, "dx": 14, "dy": 5}, "encoding": {"x": {"datum": 1.5, "axis": null}, "y": {"datum": 0.0001377, "axis": null}}},
        {"data": {"values": [{}]}, "mark": {"type": "text", "text": "(GeV)", "align": "left", "baseline": "alphabetic", "fontSize": 22, "dx": 29.6}, "encoding": {"x": {"datum": 1.5, "axis": null}, "y": {"datum": 0.0001377, "axis": null}}},
        {"data": {"values": [{}]}, "mark": {"type": "text", "text": "1/p", "align": "left", "baseline": "alphabetic", "angle": 270, "fontSize": 25}, "encoding": {"x": {"datum": -0.56, "axis": null}, "y": {"datum": 0.00597, "axis": null}}},
        {"data": {"values": [{}]}, "mark": {"type": "text", "text": "T", "align": "left", "baseline": "alphabetic", "angle": 270, "fontSize": 16, "dx": 40.2, "dy": 5}, "encoding": {"x": {"datum": -0.56, "axis": null}, "y": {"datum": 0.00597, "axis": null}}},
        {"data": {"values": [{}]}, "mark": {"type": "text", "text": "dN/dp", "align": "left", "baseline": "alphabetic", "angle": 270, "fontSize": 25, "dx": 58}, "encoding": {"x": {"datum": -0.56, "axis": null}, "y": {"datum": 0.00597, "axis": null}}},
        {"data": {"values": [{}]}, "mark": {"type": "text", "text": "T", "align": "left", "baseline": "alphabetic", "angle": 270, "fontSize": 16, "dx": 132.7, "dy": 5}, "encoding": {"x": {"datum": -0.56, "axis": null}, "y": {"datum": 0.00597, "axis": null}}},
        {"data": {"values": [{}]}, "mark": {"type": "text", "text": "(GeV", "align": "left", "baseline": "alphabetic", "angle": 270, "fontSize": 25, "dx": 150.5}, "encoding": {"x": {"datum": -0.56, "axis": null}, "y": {"datum": 0.00597, "axis": null}}},
        {"data": {"values": [{}]}, "mark": {"type": "text", "text": "-2", "align": "left", "baseline": "alphabetic", "angle": 270, "fontSize": 16, "dx": 212.1, "dy": -9}, "encoding": {"x": {"datum": -0.56, "axis": null}, "y": {"datum": 0.00597, "axis": null}}},
        {"data": {"values": [{}]}, "mark": {"type": "text", "text": ")", "align": "left", "baseline": "alphabetic", "angle": 270, "fontSize": 25, "dx": 228.1}, "encoding": {"x": {"datum": -0.56, "axis": null}, "y": {"datum": 0.00597, "axis": null}}}
      ]
    }
  ],
  "config": {
    "font": "DejaVu Sans",
    "view": {"stroke": "#111", "strokeWidth": 2.5},
    "axis": {"domain": false, "grid": false, "tickColor": "#111", "tickWidth": 1.5, "tickSize": -5, "labelFont": "DejaVu Sans", "labelFontSize": 16, "labelColor": "#222", "labelPadding": 9, "labelOverlap": false, "labelFlush": false, "labelBound": false},
    "text": {"font": "DejaVu Sans", "color": "#222"}
  }
}
